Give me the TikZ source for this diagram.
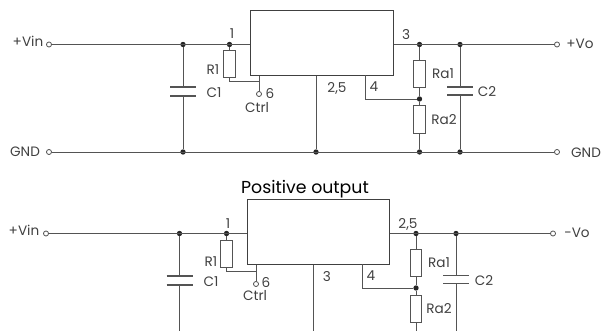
\documentclass[tikz,border=0pt]{standalone}
\usepackage{fontspec}
\setmainfont{Poppins}
\definecolor{wire}{gray}{0.33}
\tikzset{
  lead/.style = {draw = wire, line width = 0.7pt},
  plate/.style = {draw = wire, line width = 0.9pt},
  dot/.style = {circle, fill = black!85, inner sep = 0pt, minimum size = 4pt},
  term/.style = {circle, draw = wire, fill = white, line width = 0.6pt, inner sep = 0pt, minimum size = 3.8pt},
  res/.style = {rectangle, draw = wire, fill = white, line width = 0.7pt, inner sep = 0pt, minimum width = 8.6pt, minimum height = 20.3pt},
  chip/.style = {rectangle, draw = black!75, line width = 0.7pt, inner sep = 0pt, minimum width = 107pt, minimum height = 48.4pt},
  lbl/.style = {inner sep = 0pt, text = black!75, font = \fontsize{10.2}{12}\selectfont}
}
\begin{document}
\begin{tikzpicture}[x = 0.75pt, y = -0.75pt]
  \useasboundingbox (0, 0) rectangle (603, 331);

  % first circuit
  \node[chip] (U) at (322, 43) {};
  \node[term] (Vin) at (49, 44.5) {};
  \node[term] (Gnd) at (49, 152) {};
  \node[term] (Vo) at (557, 44.5) {};
  \node[term] (GndR) at (557, 152) {};
  \node[term] (Ctl) at (259, 94) {};
  \node[dot] (a1) at (183, 44.5) {};
  \node[dot] (a2) at (229.5, 44.5) {};
  \node[dot] (a3) at (419.5, 44.5) {};
  \node[dot] (a4) at (460, 44.5) {};
  \node[dot] (a5) at (419.5, 99) {};
  \node[dot] (b1) at (183, 152) {};
  \node[dot] (b2) at (316, 152) {};
  \node[dot] (b3) at (419.5, 152) {};
  \node[dot] (b4) at (460, 152) {};
  \node[res] (R) at (229.5, 64) {};
  \node[res] (Ra) at (419.5, 74) {};
  \node[res] (Rb) at (419.5, 119.5) {};
  \coordinate (c1t) at (183, 87);
  \coordinate (c1b) at (183, 96);
  \coordinate (c2t) at (460, 87);
  \coordinate (c2b) at (460, 95);

  \draw[lead] (Vin) -- (U.west |- Vin);
  \draw[lead] (U.east |- Vo) -- (Vo);
  \draw[lead] (Gnd) -- (GndR);
  \draw[lead] (a1) -- (c1t) (c1b) -- (b1);
  \draw[lead] (a4) -- (c2t) (c2b) -- (b4);
  \foreach \n in {c1t, c1b, c2t, c2b} {
    \draw[plate] ([xshift = -9.75pt] \n) -- ([xshift = 9.75pt] \n);
  }
  \draw[lead] (a2) -- (R);
  \draw[lead] (R.south) |- ([yshift = -2.6pt] R.south -| Ctl);
  \draw[lead] (Ctl |- U.south) -- (Ctl);
  \draw[lead] (a3) -- (Ra) (Ra) -- (a5) (a5) -- (Rb) (Rb) -- (b3);
  \draw[lead] (b2 |- U.south) -- (b2);
  \draw[lead] (365, 75.3) |- (a5);

  \node[lbl] (t1) at (28, 41) {+Vin};
  \node[lbl] (t2) at (25, 152) {GND};
  \node[lbl] (t3) at (232, 34) {1};
  \node[lbl] (t4) at (213, 70) {R1};
  \node[lbl] (t5) at (214, 93) {C1};
  \node[lbl] (t6) at (270, 93) {6};
  \node[lbl] (t7) at (257, 108) {Ctrl};
  \node[lbl] (t8) at (406, 35) {3};
  \node[lbl] (t9) at (337, 88) {2,5};
  \node[lbl] (t10) at (374, 87) {4};
  \node[lbl] (t11) at (443, 74) {Ra1};
  \node[lbl] (t12) at (444, 120) {Ra2};
  \node[lbl] (t13) at (487, 92) {C2};
  \node[lbl] (t14) at (580, 44) {+Vo};
  \node[lbl] (t15) at (586, 153) {GND};

  \node[inner sep = 0pt, font = \fontsize{13}{15}\selectfont] (title) at (305, 189) {Positive output};

  % second circuit
  \node[chip] (V) at (318.5, 232) {};
  \node[term] (Vin2) at (46, 233.5) {};
  \node[term] (Vo2) at (553, 233.5) {};
  \node[term] (Ctl2) at (256, 284) {};
  \node[dot] (d1) at (179.5, 233.5) {};
  \node[dot] (d2) at (226.5, 233.5) {};
  \node[dot] (d3) at (416, 233.5) {};
  \node[dot] (d4) at (456, 233.5) {};
  \node[dot] (d5) at (416, 288) {};
  \node[res] (R2) at (226.5, 253.7) {};
  \node[res] (Rc) at (416, 263.2) {};
  \node[res] (Rd) at (416, 308.7) {};
  \coordinate (c3t) at (179.5, 276);
  \coordinate (c3b) at (179.5, 285);
  \coordinate (c4t) at (456, 275.5);
  \coordinate (c4b) at (456, 283.5);
  \coordinate (e1) at (179.5, 331);
  \coordinate (e2) at (313, 331);
  \coordinate (e3) at (416, 331);
  \coordinate (e4) at (456, 331);

  \draw[lead] (Vin2) -- (V.west |- Vin2);
  \draw[lead] (V.east |- Vo2) -- (Vo2);
  \draw[lead] (d1) -- (c3t) (c3b) -- (e1);
  \draw[lead] (d4) -- (c4t) (c4b) -- (e4);
  \foreach \n in {c3t, c3b, c4t, c4b} {
    \draw[plate] ([xshift = -9.75pt] \n) -- ([xshift = 9.75pt] \n);
  }
  \draw[lead] (d2) -- (R2);
  \draw[lead] (R2.south) |- ([yshift = -3pt] R2.south -| Ctl2);
  \draw[lead] (Ctl2 |- V.south) -- (Ctl2);
  \draw[lead] (d3) -- (Rc) (Rc) -- (d5) (d5) -- (Rd) (Rd) -- (e3);
  \draw[lead] (e2 |- V.south) -- (e2);
  \draw[lead] (362, 264.2) |- (d5);

  \node[lbl] (s1) at (24, 230) {+Vin};
  \node[lbl] (s2) at (228, 224) {1};
  \node[lbl] (s3) at (211, 262) {R1};
  \node[lbl] (s4) at (211, 282) {C1};
  \node[lbl] (s5) at (266, 282) {6};
  \node[lbl] (s6) at (255, 296) {Ctrl};
  \node[lbl] (s7) at (408, 224) {2,5};
  \node[lbl] (s8) at (327, 277) {3};
  \node[lbl] (s9) at (371, 276) {4};
  \node[lbl] (s10) at (439, 263) {Ra1};
  \node[lbl] (s11) at (439, 309) {Ra2};
  \node[lbl] (s12) at (484, 281) {C2};
  \node[lbl] (s13) at (577, 233) {-Vo};

\end{tikzpicture}
\end{document}
